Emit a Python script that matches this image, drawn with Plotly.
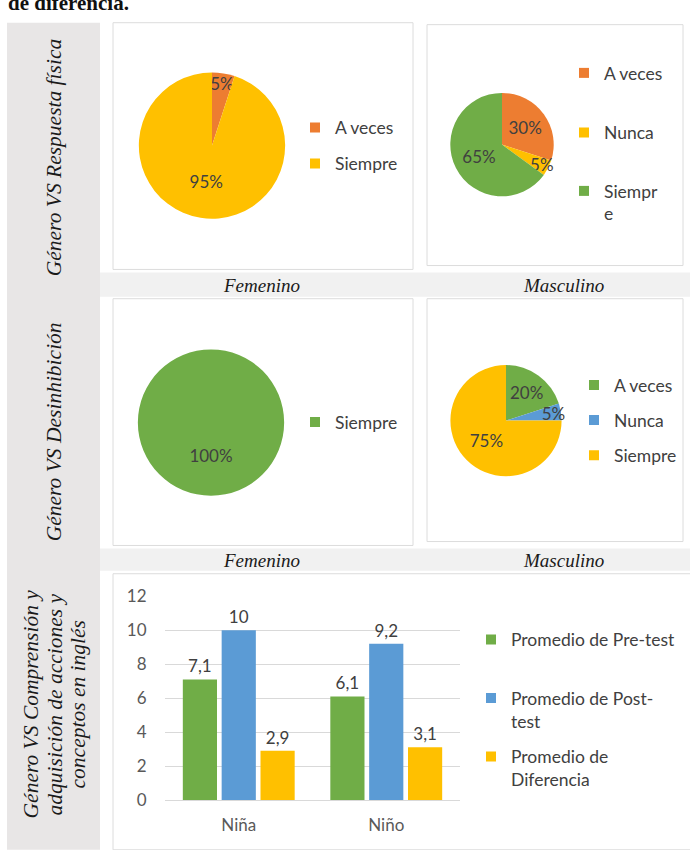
import plotly.graph_objects as go

W, H = 690, 850


def X(p):
    return p / W


def Y(p):
    return 1 - p / H


# ---------------- data ----------------
resp_fem_labels = ["A veces", "Siempre"]
resp_fem_values = [5, 95]
resp_fem_colors = ["#ED7D31", "#FFC000"]

resp_masc_labels = ["A veces", "Nunca", "Siempre"]
resp_masc_legend_text = ["A veces", "Nunca", "Siempr<br>e"]
resp_masc_values = [30, 5, 65]
resp_masc_colors = ["#ED7D31", "#FFC000", "#70AD47"]

desi_fem_labels = ["Siempre"]
desi_fem_values = [100]
desi_fem_colors = ["#70AD47"]

desi_masc_labels = ["A veces", "Nunca", "Siempre"]
desi_masc_values = [20, 5, 75]
desi_masc_colors = ["#70AD47", "#5B9BD5", "#FFC000"]

bar_categories = ["Niña", "Niño"]
bar_series = ["Promedio de Pre-test", "Promedio de Post-test", "Promedio de Diferencia"]
bar_legend_text = ["Promedio de Pre-test", "Promedio de Post-<br>test", "Promedio de<br>Diferencia"]
pre_test = [7.1, 6.1]
post_test = [10, 9.2]
diferencia = [2.9, 3.1]
bar_colors = ["#70AD47", "#5B9BD5", "#FFC000"]
y_ticks = [0, 2, 4, 6, 8, 10, 12]

row_titles = [
    ["Género VS Respuesta física"],
    ["Género VS Desinhibición"],
    ["Género VS Comprensión y", "adquisición de acciones y", "conceptos en inglés"],
]
col_titles = ["Femenino", "Masculino"]

SANS = "Lato"
SERIF = "Liberation Serif"
TXT = "#404040"
LEG_F = 17.5

fig = go.Figure()

# ---------------- pies ----------------
pie_specs = [
    (resp_fem_labels, resp_fem_values, resp_fem_colors, (137, 287), (63, 213), "%{percent}"),
    (resp_masc_labels, resp_masc_values, resp_masc_colors, (449, 555), (84, 190), "%{percent}"),
    (desi_fem_labels, desi_fem_values, desi_fem_colors, (136, 286), (347, 497),
     "&nbsp;<br>&nbsp;<br>&nbsp;<br>%{percent}"),
    (desi_masc_labels, desi_masc_values, desi_masc_colors, (449, 563), (363, 477), "%{percent}"),
]
for labels, values, colors, (x0, x1), (y0, y1), tt in pie_specs:
    fig.add_trace(go.Pie(
        labels=labels, values=values, sort=False, direction="clockwise", rotation=0,
        marker=dict(colors=colors, line=dict(width=0)),
        texttemplate=tt, textposition="inside", insidetextorientation="horizontal",
        textfont=dict(family=SANS, size=17, color=TXT),
        domain=dict(x=[X(x0), X(x1)], y=[Y(y1), Y(y0)]),
        showlegend=False, hoverinfo="label+percent", automargin=False,
    ))

# ---------------- bars ----------------
for name, vals, col in zip(bar_series, [pre_test, post_test, diferencia], bar_colors):
    fig.add_trace(go.Bar(
        x=bar_categories, y=vals, name=name, marker=dict(color=col, line=dict(width=0)),
        texttemplate="%{y}", textposition="outside", cliponaxis=False,
        textfont=dict(family=SANS, size=17, color=TXT), showlegend=False,
    ))

# ---------------- legends (one per entry) ----------------
legend_entries = []  # (text, color, text_start_x_px, symbol_center_y_px)
for t, c, yy in zip(resp_fem_labels, resp_fem_colors, [119, 156]):
    legend_entries.append((t, c, 335, yy))
for t, c, yy in zip(resp_masc_legend_text, resp_masc_colors, [63, 124, 184]):
    legend_entries.append((t, c, 604, yy))
for t, c, yy in zip(desi_fem_labels, desi_fem_colors, [421]):
    legend_entries.append((t, c, 335, yy))
for t, c, yy in zip(desi_masc_labels, desi_masc_colors, [383, 419, 455]):
    legend_entries.append((t, c, 614, yy))
for t, c, yy in zip(bar_legend_text, bar_colors, [644, 704, 764]):
    legend_entries.append((t, c, 511, yy))

lh = 1.3 * LEG_F
layout_legends = {}
for i, (t, c, tx, cy) in enumerate(legend_entries):
    key = "legend" if i == 0 else f"legend{i + 1}"
    fig.add_trace(go.Scatter(
        x=[None], y=[None], mode="markers", name=t,
        marker=dict(symbol="square", size=10, color=c),
        legend=key, showlegend=True, hoverinfo="skip",
    ))
    layout_legends[key] = dict(
        x=X(tx - 40), xanchor="left",
        y=Y(cy - 5 - lh / 2 - 1.5), yanchor="top",
        font=dict(family=SANS, size=LEG_F, color=TXT),
        bgcolor="rgba(0,0,0,0)", borderwidth=0, valign="top",
        itemwidth=30, itemclick=False, itemdoubleclick=False,
    )

# ---------------- background shapes ----------------
shapes = []


def rect(x0, y0, x1, y1, fill, line=None):
    shapes.append(dict(
        type="rect", xref="paper", yref="paper", layer="below",
        x0=X(x0), x1=X(x1), y0=Y(y1), y1=Y(y0), fillcolor=fill,
        line=dict(color=line or "rgba(0,0,0,0)", width=1 if line else 0),
    ))


rect(7, 12, 100, 860, "#e8e6e6")
rect(100, 268, 700, 293, "#f1f1f1")
rect(100, 551, 700, 574, "#f1f1f1")
rect(113, 12, 413, 265, "white", "#dcdcdc")
rect(427, 14, 683, 261, "white", "#dcdcdc")
rect(113, 295, 413, 548, "white", "#dcdcdc")
rect(427, 295, 683, 544, "white", "#dcdcdc")
rect(113, 577, 700, 860, "white", "#dcdcdc")

# ---------------- annotations ----------------
ann = []
ann.append(dict(text="<b>de diferencia.</b>", x=X(6), y=Y(6), xanchor="left", yanchor="bottom",
                font=dict(family=SERIF, size=21, color="#111")))
row_positions = [([54], 151), ([54], 432), ([31, 55, 78], 711)]
for lines, (xs, cy) in zip(row_titles, row_positions):
    for t, cx in zip(lines, xs):
        ann.append(dict(text=f"<i>{t}</i>", x=X(cx), y=Y(cy), textangle=-90,
                        xanchor="center", yanchor="middle",
                        font=dict(family=SERIF, size=21.5, color="#1a1a1a")))
for sy in [281, 563]:
    for t, cx in zip(col_titles, [261, 563]):
        ann.append(dict(text=f"<i>{t}</i>", x=X(cx), y=Y(sy), xanchor="center", yanchor="middle",
                        font=dict(family=SERIF, size=19, color="#1a1a1a")))
for a in ann:
    a.update(xref="paper", yref="paper", showarrow=False)

fig.update_layout(
    width=W, height=H, margin=dict(l=0, r=0, t=0, b=0),
    paper_bgcolor="white", plot_bgcolor="rgba(0,0,0,0)",
    separators=",.",
    barmode="group", bargap=0.21, bargroupgap=0.12,
    uniformtext=dict(minsize=16, mode="show"),
    shapes=shapes, annotations=ann,
    xaxis=dict(domain=[X(165), X(460)], anchor="y", showline=True, linecolor="#d9d9d9",
               ticks="outside", ticklen=10, tickcolor="rgba(0,0,0,0)", showgrid=False,
               tickfont=dict(family=SANS, size=17, color="#595959"), fixedrange=True),
    yaxis=dict(domain=[Y(809), Y(600)], anchor="x", range=[0, 12], tickvals=y_ticks,
               showgrid=True, gridcolor="#d9d9d9", zeroline=False,
               ticks="outside", ticklen=14, tickcolor="rgba(0,0,0,0)",
               tickfont=dict(family=SANS, size=17, color="#595959"), fixedrange=True),
    **layout_legends,
)

fig.write_html("out.html", config={"displayModeBar": False},
               post_script="document.body.style.margin='0';document.body.style.overflow='hidden';")
